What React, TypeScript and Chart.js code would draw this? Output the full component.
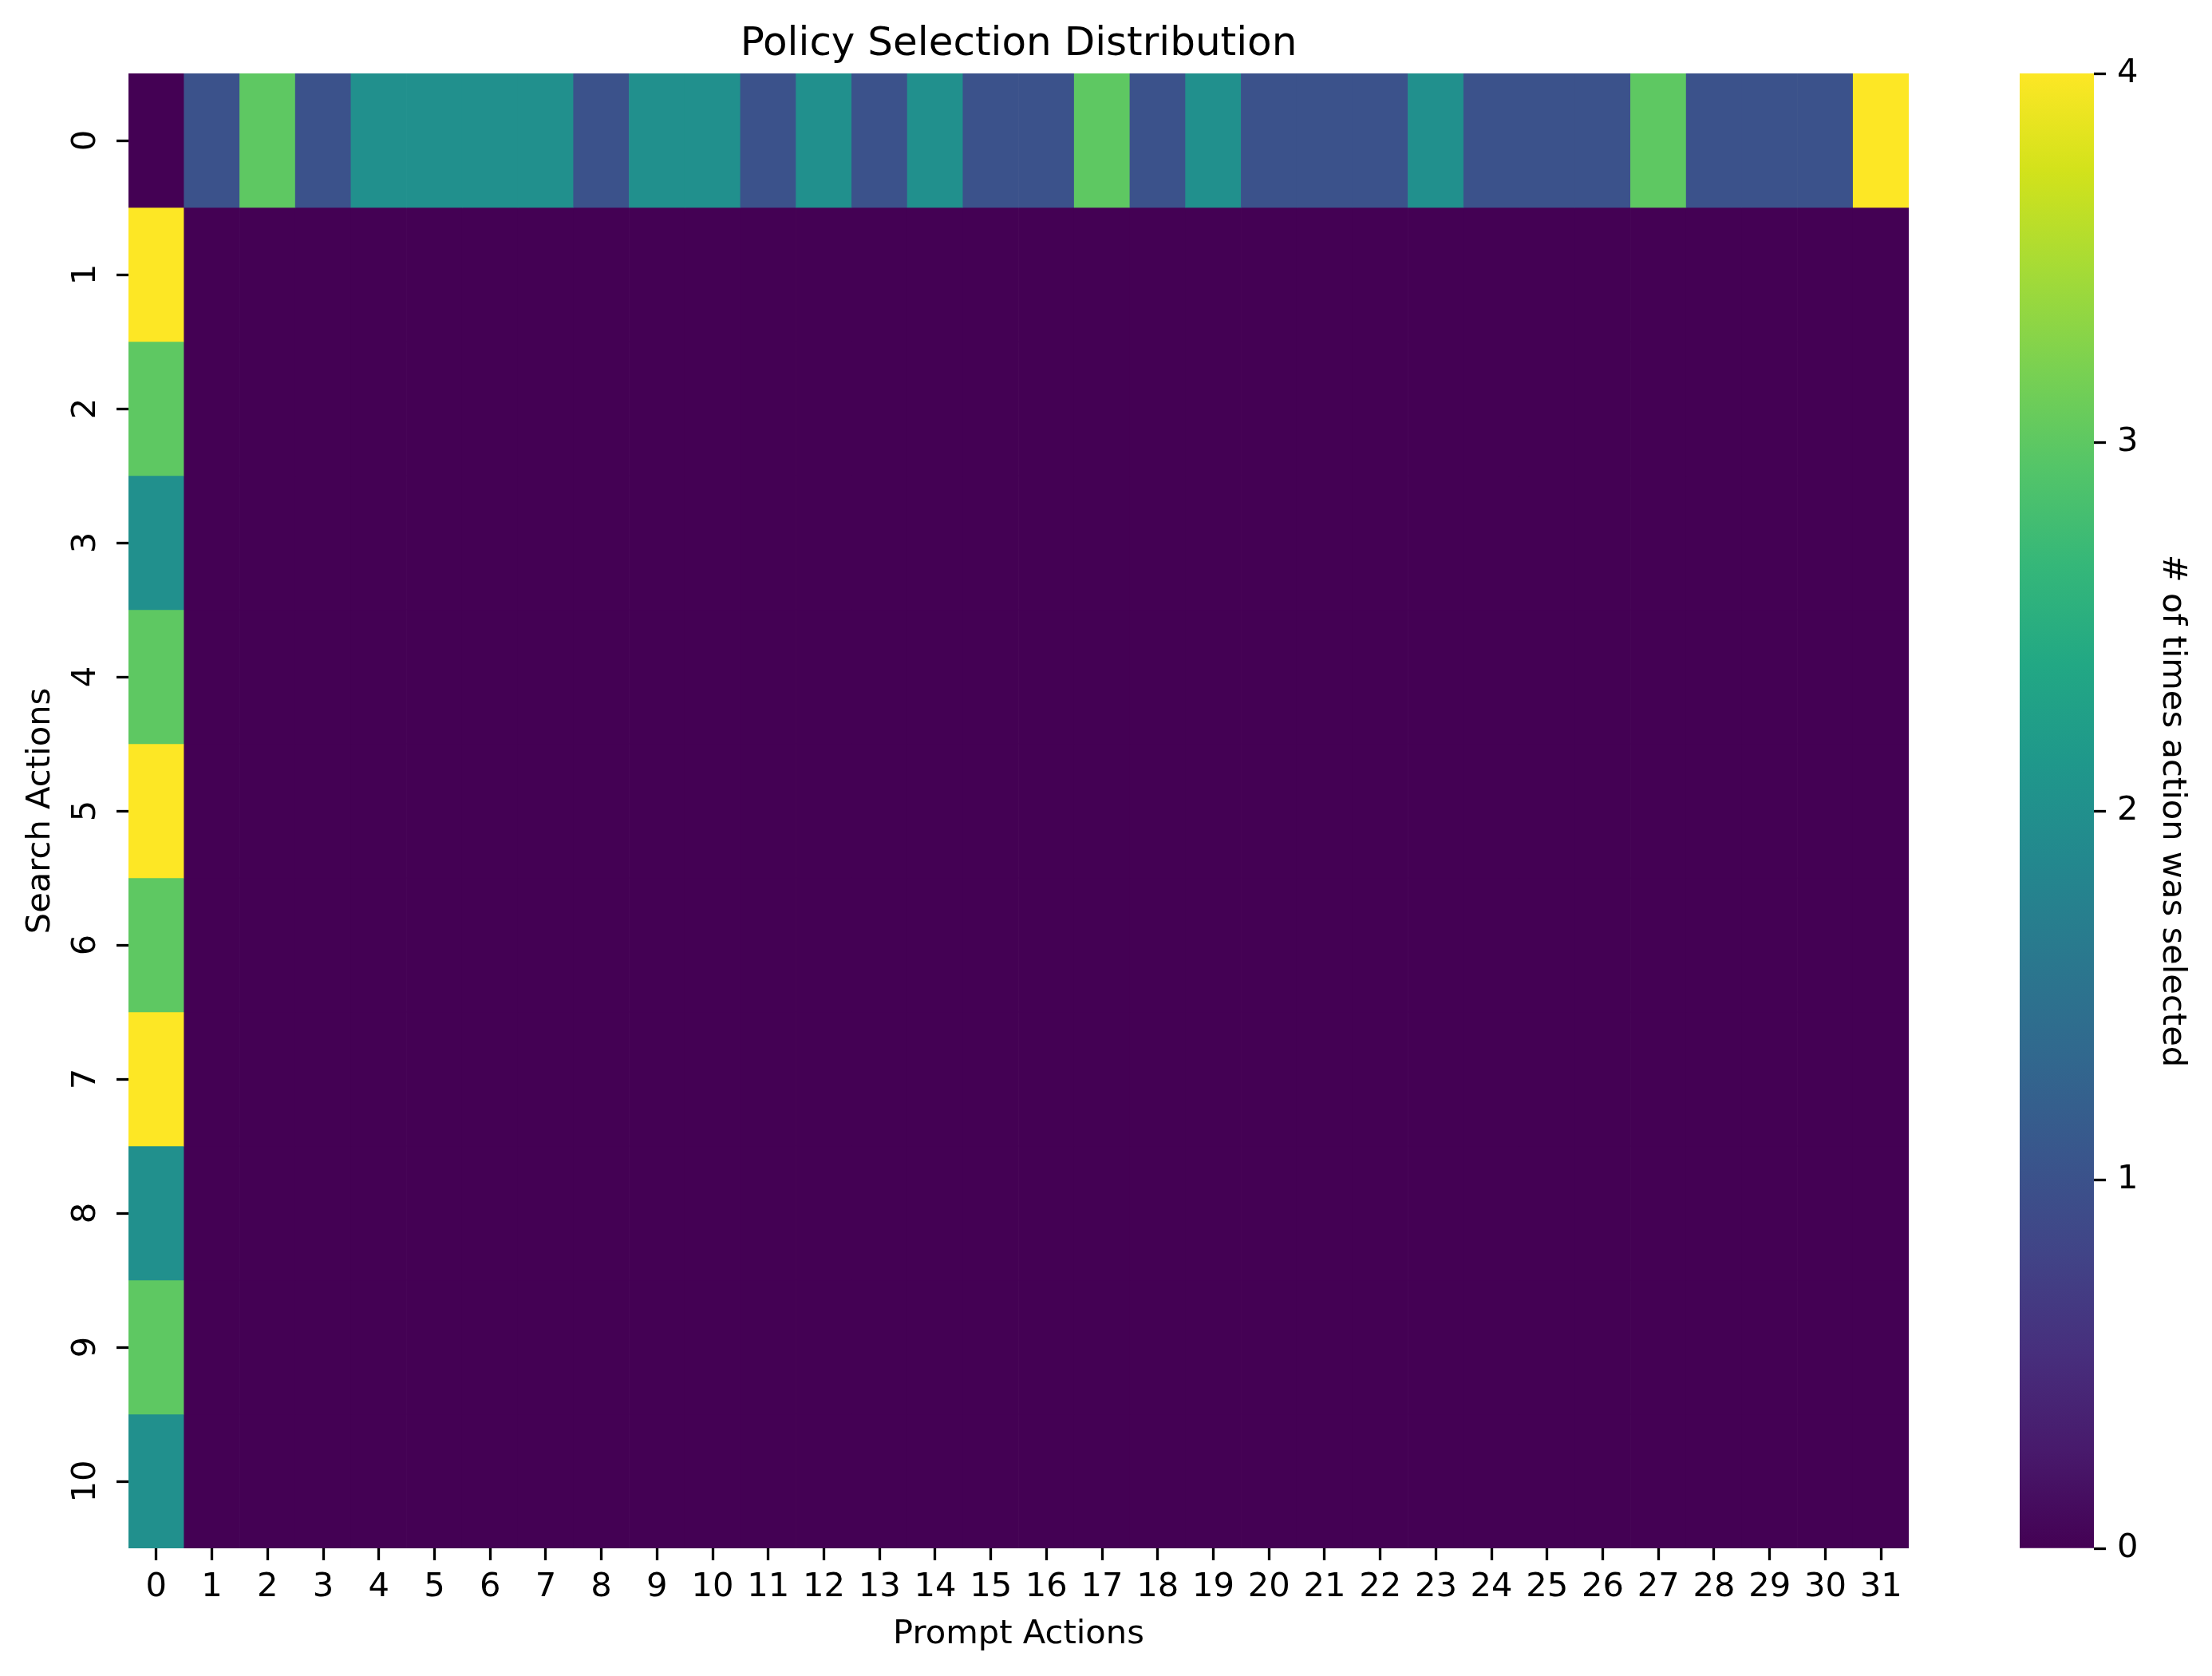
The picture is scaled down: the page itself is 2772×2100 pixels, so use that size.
import React, { useEffect, useRef } from "react";
import { Chart, registerables } from "chart.js";

Chart.register(...registerables);

// ---------- data ----------
const chartTitle = "Policy Selection Distribution";
const xAxisTitle = "Prompt Actions";
const yAxisTitle = "Search Actions";
const colorbarTitle = "# of times action was selected";

const promptActionLabels = Array.from({ length: 32 }, (_, i) => String(i));
const searchActionLabels = Array.from({ length: 11 }, (_, i) => String(i));

// counts for search action 0 across prompt actions 0..31
const searchAction0Counts = [
  0, 1, 3, 1, 2, 2, 2, 2, 1, 2, 2, 1, 2, 1, 2, 1,
  1, 3, 1, 2, 1, 1, 1, 2, 1, 1, 1, 3, 1, 1, 1, 4,
];
// counts for prompt action 0 for search actions 1..10
const promptAction0Counts = [4, 3, 2, 3, 4, 3, 4, 2, 3, 2];
// all other cells (search 1..10, prompt 1..31) are 0
const otherCellCount = 0;

const colorbarTicks = [0, 1, 2, 3, 4];
const valueMin = 0;
const valueMax = 4;

// ---------- viridis colormap ----------
const viridisStops = [
  "#440154", "#481a6c", "#472f7d", "#414487", "#39568c", "#31688e",
  "#2a788e", "#23888e", "#1f988b", "#22a884", "#35b779", "#54c568",
  "#7ad151", "#a5db36", "#d2e21b", "#fde725",
];

function hexToRgb(h: string) {
  return [parseInt(h.slice(1, 3), 16), parseInt(h.slice(3, 5), 16), parseInt(h.slice(5, 7), 16)];
}

function viridis(t: number) {
  const tt = Math.max(0, Math.min(1, t));
  const pos = tt * (viridisStops.length - 1);
  const i = Math.min(Math.floor(pos), viridisStops.length - 2);
  const f = pos - i;
  const a = hexToRgb(viridisStops[i]);
  const b = hexToRgb(viridisStops[i + 1]);
  const c = a.map((v, k) => Math.round(v + (b[k] - v) * f));
  return `rgb(${c[0]},${c[1]},${c[2]})`;
}

// build the matrix [row = search action][col = prompt action]
const matrix: number[][] = searchActionLabels.map((_, r) =>
  promptActionLabels.map((_, c) => {
    if (r === 0) return searchAction0Counts[c];
    if (c === 0) return promptAction0Counts[r - 1];
    return otherCellCount;
  })
);

const FONT = "'DejaVu Sans', 'Liberation Sans', sans-serif";
const TICK_SIZE = 41.67;

export default function App() {
  const mainRef = useRef<HTMLCanvasElement | null>(null);
  const cbRef = useRef<HTMLCanvasElement | null>(null);

  useEffect(() => {
    Chart.defaults.font.family = FONT;
    Chart.defaults.color = "#000";

    const datasets = matrix.map((row, r) => ({
      label: `Search ${r}`,
      data: row.map(() => [r - 0.5, r + 0.5]),
      backgroundColor: row.map((v) => viridis((v - valueMin) / (valueMax - valueMin))),
      borderWidth: 0,
      barPercentage: 1,
      categoryPercentage: 1,
      grouped: false,
    }));

    const tickGrid = {
      display: true,
      drawOnChartArea: false,
      drawTicks: true,
      offset: false,
      tickLength: 15,
      tickWidth: 3.3,
      tickColor: "#000",
    };

    const main = new Chart(mainRef.current!, {
      type: "bar",
      data: { labels: promptActionLabels, datasets: datasets as any },
      options: {
        animation: false,
        responsive: false,
        events: [],
        layout: { padding: { left: 0, right: 380, top: 0, bottom: 0 } },
        plugins: {
          legend: { display: false },
          tooltip: { enabled: false },
          title: {
            display: true,
            fullSize: false,
            text: chartTitle,
            color: "#000",
            font: { size: 50, weight: "normal", family: FONT },
            padding: { top: 26, bottom: 6 },
          },
        },
        scales: {
          x: {
            type: "category",
            position: "bottom",
            offset: true,
            grid: tickGrid,
            border: { display: false },
            ticks: {
              autoSkip: false,
              maxRotation: 0,
              minRotation: 0,
              padding: 9,
              color: "#000",
              font: { size: TICK_SIZE, family: FONT },
            },
            title: {
              display: true,
              text: xAxisTitle,
              color: "#000",
              font: { size: TICK_SIZE, family: FONT },
              padding: { top: 0, bottom: 27 },
            },
            afterFit: (s: any) => {
              s.height = 160;
            },
          },
          y: {
            type: "linear",
            position: "left",
            min: -0.5,
            max: searchActionLabels.length - 0.5,
            reverse: true,
            grid: tickGrid,
            border: { display: false },
            afterBuildTicks: (s: any) => {
              s.ticks = searchActionLabels.map((_, i) => ({ value: i }));
            },
            ticks: {
              autoSkip: false,
              minRotation: 90,
              maxRotation: 90,
              crossAlign: "center",
              padding: 11,
              color: "#000",
              font: { size: TICK_SIZE, family: FONT },
              callback: (v: any) => searchActionLabels[Number(v)] ?? "",
            },
            title: {
              display: true,
              text: yAxisTitle,
              color: "#000",
              font: { size: TICK_SIZE, family: FONT },
              padding: { top: 26, bottom: 0 },
            },
            afterFit: (s: any) => {
              s.width = 161;
            },
          },
        },
      } as any,
    });

    const cb = new Chart(cbRef.current!, {
      type: "bar",
      data: {
        labels: [""],
        datasets: [
          {
            data: [[valueMin, valueMax]],
            borderWidth: 0,
            barPercentage: 1,
            categoryPercentage: 1,
            backgroundColor: (ctx: any) => {
              const area = ctx.chart.chartArea;
              if (!area) return viridis(0.5);
              const g = ctx.chart.ctx.createLinearGradient(0, area.bottom, 0, area.top);
              viridisStops.forEach((c, i) => g.addColorStop(i / (viridisStops.length - 1), c));
              return g;
            },
          } as any,
        ],
      },
      options: {
        animation: false,
        responsive: false,
        events: [],
        layout: { padding: { left: 131, right: 0, top: 92, bottom: 160 } },
        plugins: { legend: { display: false }, tooltip: { enabled: false }, title: { display: false } },
        scales: {
          x: { display: false },
          y: {
            type: "linear",
            position: "right",
            min: valueMin,
            max: valueMax,
            grid: { ...tickGrid },
            border: { display: false },
            afterBuildTicks: (s: any) => {
              s.ticks = colorbarTicks.map((v) => ({ value: v }));
            },
            ticks: {
              padding: 14,
              color: "#000",
              font: { size: TICK_SIZE, family: FONT },
              callback: (v: any) => String(v),
            },
            title: {
              display: true,
              text: colorbarTitle,
              color: "#000",
              font: { size: TICK_SIZE, family: FONT },
              padding: { top: 25, bottom: 0 },
            },
            afterFit: (s: any) => {
              s.width = 148;
            },
          },
        },
      } as any,
    });

    return () => {
      main.destroy();
      cb.destroy();
    };
  }, []);

  return (
    <div style={{ position: "absolute", left: 0, top: 0, width: 2772, height: 2100, background: "#fff" }}>
      <canvas
        ref={mainRef}
        width={2772}
        height={2100}
        style={{ position: "absolute", left: 0, top: 0, width: 2772, height: 2100 }}
      />
      <canvas
        ref={cbRef}
        width={372}
        height={2100}
        style={{ position: "absolute", left: 2400, top: 0, width: 372, height: 2100 }}
      />
    </div>
  );
}
